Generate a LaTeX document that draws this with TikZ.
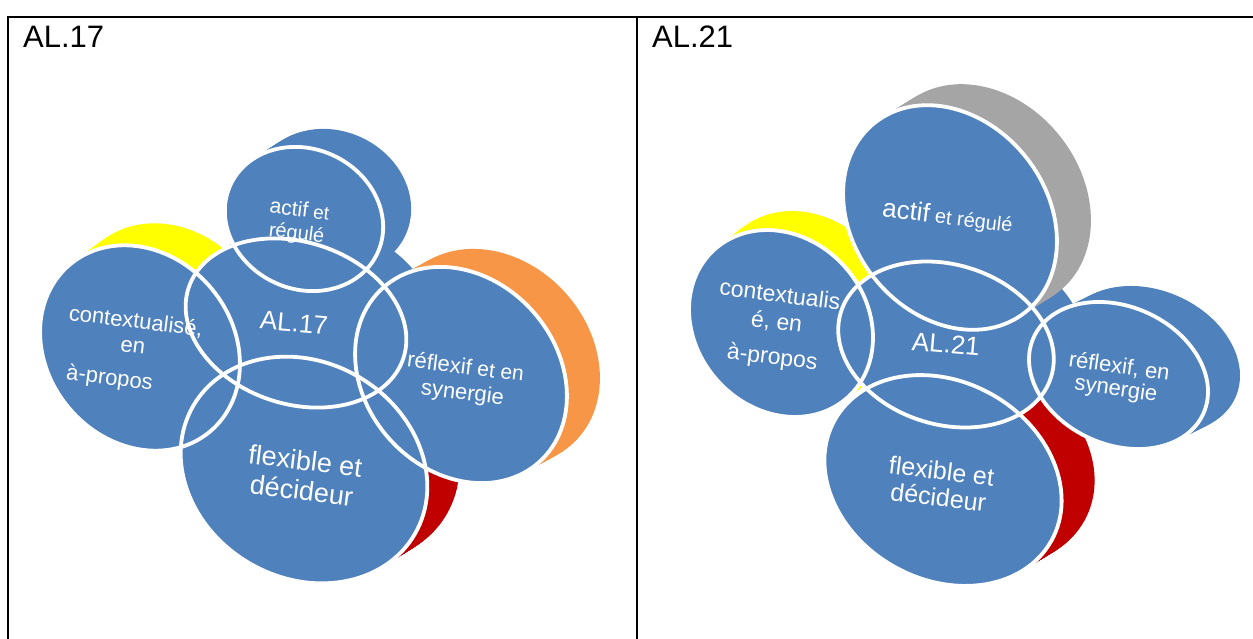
\documentclass[tikz,border=0pt]{standalone}
\usepackage{fontspec}
\setmainfont{Liberation Sans}
\definecolor{bub}{HTML}{4F81BD}
\definecolor{ylw}{HTML}{FFFF00}
\definecolor{org}{HTML}{F79646}
\definecolor{rdd}{HTML}{C00000}
\definecolor{gry}{HTML}{A5A5A5}
% cx cy a b rot dx dy color
\newcommand\extr[8]{%
  \foreach \k in {0,...,24}{%
    \fill[#8, shift={({#1+\k*(#6)/24},{-#2-\k*(#7)/24})}, rotate=#5] (0,0) ellipse[x radius=#3, y radius=#4];}}
\newcommand\face[5]{\fill[bub, shift={(#1,-#2)}, rotate=#5] (0,0) ellipse[x radius=#3, y radius=#4];}
\newcommand\ring[5]{\draw[white, line width=3.8pt, shift={(#1,-#2)}, rotate=#5] (0,0) ellipse[x radius=#3, y radius=#4];}
\tikzset{
  lbl/.style={text=white, inner sep=0pt, rotate=-7, align=center},
  head/.style={text=black, inner sep=0pt, anchor=base west, font=\fontsize{31}{34}\selectfont},
  tbl/.style={black, line width=1.6pt}
}
\begin{document}
\begin{tikzpicture}[x=1pt,y=1pt]
\useasboundingbox (0,0) rectangle (1253,-639);
\fill[white] (0,0) rectangle (1253,-639);
% ---------- left panel ----------
\extr{296}{323}{113}{81}{-18}{28}{-18}{bub}
\extr{304}{219}{81}{70}{-25}{28}{-18}{bub}
\extr{140}{348}{109}{93}{-50}{30}{-22}{ylw}
\extr{461}{375}{117}{96}{-48}{33}{-18}{org}
\extr{304}{470}{128}{108}{-30}{32}{-20}{rdd}
\face{296}{323}{113}{81}{-18}
\face{304}{219}{81}{70}{-25}
\face{140}{348}{109}{93}{-50}
\face{461}{375}{117}{96}{-48}
\face{304}{470}{128}{108}{-30}
\node[lbl, font=\fontsize{20}{23}\selectfont] (la) at (298,-222.5) {{\fontsize{21}{23}\selectfont actif}{\fontsize{19}{21}\selectfont\ et}\\régulé};
\node[lbl, rotate=2] (lc) at (294,-323) {\fontsize{26}{28}\selectfont AL.17};
\node[lbl, font=\fontsize{22}{24.5}\selectfont] (lx) at (134.5,-332.5) {contextualisé,\\en};
\node[lbl] (lx3) at (109.5,-379) {\fontsize{22}{24}\selectfont à-propos};
\node[lbl, font=\fontsize{22}{25.5}\selectfont] (lr) at (464,-381) {réflexif{\fontsize{21}{23}\selectfont\ et en}\\synergie};
\node[lbl, font=\fontsize{27}{30}\selectfont] (lf) at (303.5,-475.5) {flexible et\\décideur};
\ring{296}{323}{113}{81}{-18}
\ring{304}{219}{81}{70}{-25}
\ring{140}{348}{109}{93}{-50}
\ring{461}{375}{117}{96}{-48}
\ring{304}{470}{128}{108}{-30}
% ---------- right panel ----------
\extr{946}{344.5}{110}{80}{-17}{30}{-18}{bub}
\extr{950}{217.5}{121}{97}{-51.5}{34}{-21}{gry}
\extr{781}{323.5}{99.5}{85.4}{-48}{25}{-19}{ylw}
\extr{1118.5}{375.5}{93}{69}{-24}{32}{-16}{bub}
\extr{943}{480.5}{124}{99}{-29}{33}{-20}{rdd}
\face{946}{344.5}{110}{80}{-17}
\face{950}{217.5}{121}{97}{-51.5}
\face{781}{323.5}{99.5}{85.4}{-48}
\face{1118.5}{375.5}{93}{69}{-24}
\face{943}{480.5}{124}{99}{-29}
\node[lbl] (ra) at (947.5,-217) {{\fontsize{26}{28}\selectfont actif}{\fontsize{20}{22}\selectfont\ et régulé}};
\node[lbl, rotate=2] (rc) at (946,-344) {\fontsize{26}{28}\selectfont AL.21};
\node[lbl, font=\fontsize{23}{27}\selectfont] (rx) at (776,-327.5) {contextualis\\é, en\\[8.5pt]à-propos};
\node[lbl, rotate=-1, font=\fontsize{22}{22.5}\selectfont] (rr) at (1117.5,-378.75) {réflexif, en\\synergie};
\node[lbl, font=\fontsize{25}{26.5}\selectfont] (rf) at (940,-484) {flexible et\\décideur};
\ring{946}{344.5}{110}{80}{-17}
\ring{950}{217.5}{121}{97}{-51.5}
\ring{781}{323.5}{99.5}{85.4}{-48}
\ring{1118.5}{375.5}{93}{69}{-24}
\ring{943}{480.5}{124}{99}{-29}
% ---------- table ----------
\draw[tbl] (8,-639) -- (8,-17) -- (1253,-17);
\draw[tbl] (637,-17) -- (637,-639);
\node[head] (h1) at (23,-47.5) {AL.17};
\node[head] (h2) at (652,-47.5) {AL.21};
\end{tikzpicture}
\end{document}
